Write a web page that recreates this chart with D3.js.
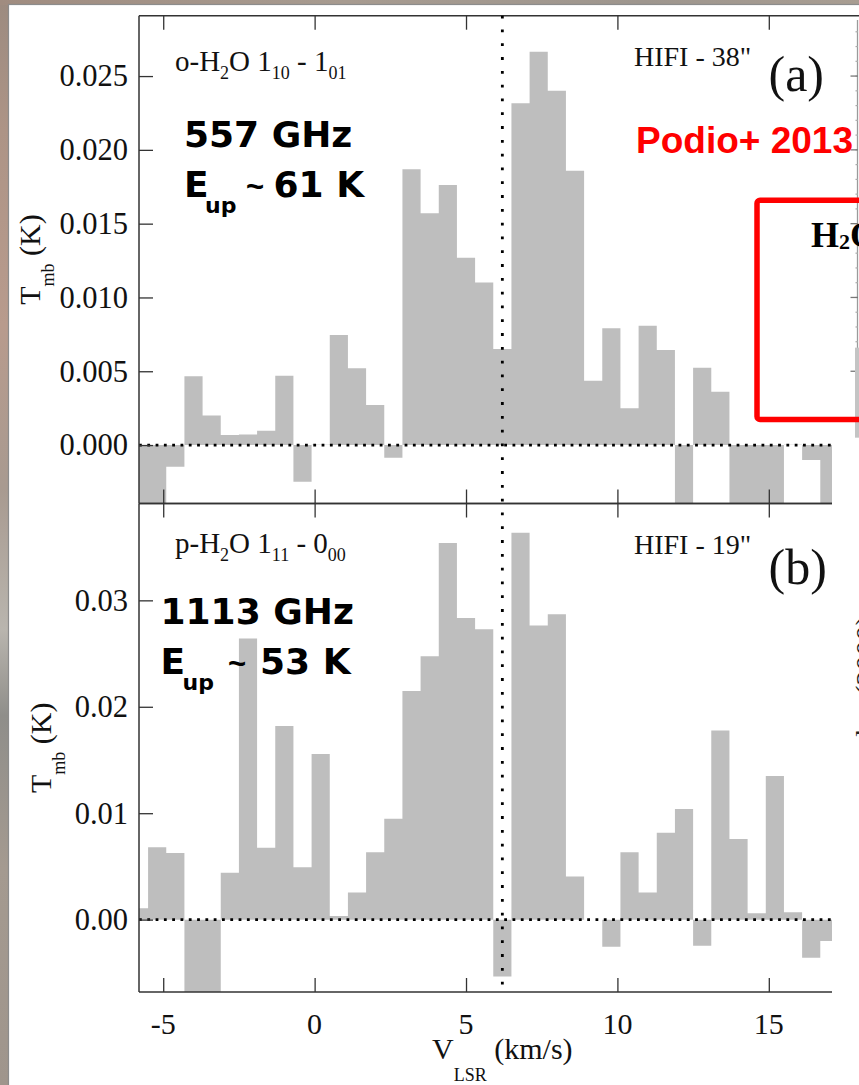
<!DOCTYPE html>
<html>
<head>
<meta charset="utf-8">
<script src="https://cdn.jsdelivr.net/npm/d3@7/dist/d3.min.js"></script>
<style>
  html, body { margin: 0; padding: 0; overflow: hidden; background: #fff; }
  svg { display: block; }
</style>
</head>
<body>
<svg id="chart" width="859" height="1085"></svg>
<script>
// ---- HIFI water spectra (channel centres in km/s, main-beam temperature in K) ----
const velocity = [-5.8, -5.2, -4.6, -4.0, -3.4, -2.8, -2.2, -1.6, -1.0, -0.4,
                   0.2,  0.8,  1.4,  2.0,  2.6,  3.2,  3.8,  4.4,  5.0,  5.6,
                   6.2,  6.8,  7.4,  8.0,  8.6,  9.2,  9.8, 10.4, 11.0, 11.6,
                  12.2, 12.8, 13.4, 14.0, 14.6, 15.2, 15.8, 16.4, 17.0];

// o-H2O 1_10 - 1_01 (557 GHz), HIFI 38" beam
const tmb557 = [-0.0045, -0.0045, -0.00147, 0.00467, 0.00200, 0.00068, 0.00072, 0.00097, 0.00470, -0.00249,
                 0.00002, 0.00745, 0.00520, 0.00271, -0.00086, 0.01868, 0.01570, 0.01762, 0.01269, 0.01102,
                 0.00650, 0.02315, 0.02665, 0.02400, 0.01858, 0.00436, 0.00791, 0.00249, 0.00808, 0.00644,
                -0.0045, 0.00524, 0.00361, -0.0045, -0.0045, -0.0045, 0.00002, -0.00102, -0.0045];

// p-H2O 1_11 - 0_00 (1113 GHz), HIFI 19" beam
const tmb1113 = [0.00106, 0.00680, 0.00627, -0.0075, -0.0075, 0.00440, 0.02641, 0.00676, 0.01820, 0.00493,
                 0.01556, 0.00035, 0.00254, 0.00634, 0.00947, 0.02148, 0.02475, 0.03539, 0.02835, 0.02729,
                -0.00535, 0.03634, 0.02764, 0.02870, 0.00405, 0.00000, -0.00254, 0.00634, 0.00254, 0.00817,
                 0.01039, -0.00246, 0.01778, 0.00757, 0.00060, 0.01349, 0.00070, -0.00359, -0.00201];

const channelWidth = 0.6;     // km/s
const vSystemic = 6.2;        // km/s

const xTickValues = [-5, 0, 5, 10, 15];
const xTickLabels = ["-5", "0", "5", "10", "15"];
const yTicks557 = [0.000, 0.005, 0.010, 0.015, 0.020, 0.025];
const yLabels557 = ["0.000", "0.005", "0.010", "0.015", "0.020", "0.025"];
const yTicks1113 = [0.00, 0.01, 0.02, 0.03];
const yLabels1113 = ["0.00", "0.01", "0.02", "0.03"];

// ---- layout ----
const svg = d3.select("#chart");
const W = 859, H = 1085;
const serif = "'Liberation Serif', 'Times New Roman', Times, serif";
const boldSans = "'DejaVu Sans', Verdana, sans-serif";
const arial = "'Liberation Sans', Arial, Helvetica, sans-serif";
const axisColor = "#333";
const barColor = "#bebebe";

// slide backdrop (photo strip at the left / top edge)
const defs = svg.append("defs");
const gv = defs.append("linearGradient").attr("id", "photoV")
  .attr("x1", 0).attr("y1", 0).attr("x2", 0).attr("y2", 1);
[["0", "#9c8b80"], ["0.12", "#ad9486"], ["0.3", "#b89b8d"], ["0.45", "#a89a90"],
 ["0.58", "#b9b5ae"], ["0.66", "#8f8e8a"], ["0.8", "#a49a90"], ["1", "#9f958c"]]
  .forEach(([o, c]) => gv.append("stop").attr("offset", o).attr("stop-color", c));
const gh = defs.append("linearGradient").attr("id", "photoH")
  .attr("x1", 0).attr("y1", 0).attr("x2", 1).attr("y2", 0);
[["0", "#a08c80"], ["0.4", "#a79b90"], ["0.75", "#9e968e"], ["1", "#a89d92"]]
  .forEach(([o, c]) => gh.append("stop").attr("offset", o).attr("stop-color", c));

svg.append("rect").attr("x", 0).attr("y", 0).attr("width", 9).attr("height", H).attr("fill", "url(#photoV)");
svg.append("rect").attr("x", 0).attr("y", 0).attr("width", W).attr("height", 5).attr("fill", "url(#photoH)");
svg.append("rect").attr("x", 8.5).attr("y", 4.5).attr("width", W).attr("height", H)
  .attr("fill", "#fff").attr("stroke", "#8c8c8c").attr("stroke-width", 1.2);

// ---- scales ----
const plotLeft = 139, plotRight = 865.7;
const x = d3.scaleLinear().domain([-5.8, 18.2]).range([plotLeft, plotRight]);

const panels = [
  { id: "p557", values: tmb557, top: 15.7, bottom: 503.5, domain: [-0.00396, 0.02909],
    ticks: yTicks557, labels: yLabels557 },
  { id: "p1113", values: tmb1113, top: 503.5, bottom: 992, domain: [-0.0068, 0.0391],
    ticks: yTicks1113, labels: yLabels1113 }
];
panels.forEach(p => {
  p.y = d3.scaleLinear().domain(p.domain).range([p.bottom, p.top]);
});

const minorX = d3.range(-5, 19, 1).filter(v => v % 5 !== 0);

panels.forEach(p => {
  const g = svg.append("g");
  const clipId = "clip-" + p.id;
  defs.append("clipPath").attr("id", clipId).append("rect")
    .attr("x", plotLeft).attr("y", p.top).attr("width", plotRight - plotLeft).attr("height", p.bottom - p.top);

  // stepped histogram
  const pts = [];
  velocity.forEach((v, i) => {
    pts.push({ v: v - channelWidth / 2, t: p.values[i] });
    pts.push({ v: v + channelWidth / 2, t: p.values[i] });
  });
  const area = d3.area().x(d => x(d.v)).y0(p.y(0)).y1(d => p.y(d.t));
  g.append("path").datum(pts).attr("d", area).attr("fill", barColor)
    .attr("clip-path", `url(#${clipId})`);

  // zero baseline (dotted)
  g.append("line").attr("x1", plotLeft).attr("x2", plotRight)
    .attr("y1", p.y(0)).attr("y2", p.y(0))
    .attr("stroke", "#000").attr("stroke-width", 2.8).attr("stroke-dasharray", "2.8 5.5");

  // left axis: major + minor ticks pointing inward
  const minorY = d3.range(Math.ceil(p.domain[0] * 1000), Math.floor(p.domain[1] * 1000) + 1)
    .map(k => k / 1000);
  const gl = g.append("g").attr("transform", `translate(${plotLeft},0)`);
  gl.call(d3.axisLeft(p.y).tickValues(minorY).tickSize(-7).tickFormat(""));
  gl.call(d3.axisLeft(p.y).tickValues(p.ticks).tickSize(-14).tickFormat(""));
  gl.selectAll(".domain").remove();

  // top and bottom edges
  [[d3.axisTop, p.top], [d3.axisBottom, p.bottom]].forEach(([ax, yy]) => {
    const ga = g.append("g").attr("transform", `translate(0,${yy})`);
    ga.call(ax(x).tickValues(minorX).tickSize(-7).tickFormat(""));
    ga.call(ax(x).tickValues(xTickValues).tickSize(-14).tickFormat(""));
    ga.selectAll(".domain").remove();
  });
  g.selectAll(".tick line").attr("stroke", axisColor).attr("stroke-width", 1.3);

  g.append("line").attr("x1", plotLeft).attr("x2", plotLeft).attr("y1", p.top).attr("y2", p.bottom)
    .attr("stroke", axisColor).attr("stroke-width", 1.5);
  g.append("line").attr("x1", plotLeft).attr("x2", plotRight).attr("y1", p.top).attr("y2", p.top)
    .attr("stroke", axisColor).attr("stroke-width", 1.5);
  g.append("line").attr("x1", plotLeft).attr("x2", plotRight).attr("y1", p.bottom).attr("y2", p.bottom)
    .attr("stroke", axisColor).attr("stroke-width", 1.5);

  // y tick labels
  g.selectAll("text.ylab").data(p.ticks).enter().append("text")
    .attr("class", "ylab")
    .attr("x", plotLeft - 11).attr("y", d => p.y(d)).attr("dy", "0.34em")
    .attr("text-anchor", "end").attr("font-family", serif).attr("font-size", 30.5)
    .attr("fill", "#111")
    .text((d, i) => p.labels[i]);
});

// systemic velocity (dotted, through both panels)
svg.append("line").attr("x1", x(vSystemic)).attr("x2", x(vSystemic))
  .attr("y1", panels[0].top).attr("y2", panels[1].bottom)
  .attr("stroke", "#000").attr("stroke-width", 2.8).attr("stroke-dasharray", "2.8 11");

// x tick labels
svg.selectAll("text.xlab").data(xTickValues).enter().append("text")
  .attr("class", "xlab")
  .attr("x", d => x(d)).attr("y", 1034)
  .attr("text-anchor", "middle").attr("font-family", serif).attr("font-size", 30)
  .attr("fill", "#111")
  .text((d, i) => xTickLabels[i]);

// axis titles
const xt = svg.append("text").attr("x", (plotLeft + plotRight) / 2).attr("y", 1059)
  .attr("text-anchor", "middle").attr("font-family", serif).attr("font-size", 30).attr("fill", "#111");
xt.append("tspan").text("V");
xt.append("tspan").attr("font-size", 18).attr("dy", 22).text("LSR");
xt.append("tspan").attr("dy", -22).text(" (km/s)");

[[40, panels[0]], [51, panels[1]]].forEach(([bx, p]) => {
  const t = svg.append("text")
    .attr("transform", `translate(${bx},${(p.top + p.bottom) / 2}) rotate(-90)`)
    .attr("text-anchor", "middle").attr("font-family", serif).attr("font-size", 30).attr("fill", "#111");
  t.append("tspan").text("T");
  t.append("tspan").attr("font-size", 18).attr("dy", 13.5).text("mb");
  t.append("tspan").attr("dy", -13.5).text(" (K)");
});

// transition labels
function transition(xx, yy, parts) {
  const t = svg.append("text").attr("x", xx).attr("y", yy)
    .attr("font-family", serif).attr("font-size", 29).attr("fill", "#111");
  let low = false;
  parts.forEach(([s, sub]) => {
    const sp = t.append("tspan").text(s);
    if (sub && !low) { sp.attr("font-size", 18).attr("dy", 8); low = true; }
    else if (sub) { sp.attr("font-size", 18); }
    else if (low) { sp.attr("dy", -8); low = false; }
  });
}
transition(175, 71, [["o-H", 0], ["2", 1], ["O 1", 0], ["10", 1], [" - 1", 0], ["01", 1]]);
transition(175, 553, [["p-H", 0], ["2", 1], ["O 1", 0], ["11", 1], [" - 0", 0], ["00", 1]]);

// beam and panel tags
[["HIFI - 38\"", 65.7, "(a)", 90.5], ["HIFI - 19\"", 554.4, "(b)", 584]].forEach(([beam, by, tag, ty]) => {
  svg.append("text").attr("x", 634).attr("y", by).attr("font-family", serif)
    .attr("font-size", 28).attr("fill", "#111").text(beam);
  svg.append("text").attr("x", 768.5).attr("y", ty).attr("font-family", serif)
    .attr("font-size", 50).attr("fill", "#111").text(tag);
});

// frequency / upper-level energy annotations
function lineInfo(xs, y0, freq, eup) {
  svg.append("text").attr("x", xs[0]).attr("y", y0).attr("font-family", boldSans)
    .attr("font-weight", "bold").attr("font-size", 36).attr("fill", "#000").text(freq);
  const t = svg.append("text").attr("x", xs[0]).attr("y", y0 + 50).attr("font-family", boldSans)
    .attr("font-weight", "bold").attr("font-size", 36).attr("fill", "#000");
  t.append("tspan").attr("x", xs[0]).text("E");
  t.append("tspan").attr("x", xs[1]).attr("dy", 16).attr("font-size", 22).text("up");
  t.append("tspan").attr("x", xs[2]).attr("dy", -16).attr("font-family", arial)
    .attr("font-size", 31).text("~");
  t.append("tspan").attr("x", xs[3]).text(eup);
}
lineInfo([184, 205, 246, 273.5], 146.7, "557 GHz", "61 K");
lineInfo([160.5, 182.5, 228, 260], 623.7, "1113 GHz", "53 K");

// ---- neighbouring map figure, overlapping the right edge ----
svg.append("rect").attr("x", 832).attr("y", 18).attr("width", 40).attr("height", H).attr("fill", "#fff");
const yMap = panels[0].y;
svg.append("line").attr("x1", 857.5).attr("x2", 857.5).attr("y1", 20).attr("y2", 437)
  .attr("stroke", "#9a9a9a").attr("stroke-width", 1.3);
const mapMinor = d3.range(4, 29).map(k => k / 1000);
svg.selectAll("line.mapminor").data(mapMinor).enter().append("line")
  .attr("x1", 855.5).attr("x2", 858).attr("y1", d => yMap(d)).attr("y2", d => yMap(d))
  .attr("stroke", "#aaa").attr("stroke-width", 1.2);
svg.selectAll("line.mapmajor").data(yTicks557.slice(1)).enter().append("line")
  .attr("x1", 850.5).attr("x2", 858).attr("y1", d => yMap(d)).attr("y2", d => yMap(d))
  .attr("stroke", "#777").attr("stroke-width", 1.3);
svg.append("rect").attr("x", 855).attr("y", yMap(0.0066)).attr("width", 5)
  .attr("height", yMap(0.0005) - yMap(0.0066)).attr("fill", "#c4c4c4");
svg.append("text").attr("transform", "translate(876,680) rotate(-90)")
  .attr("text-anchor", "middle").attr("font-family", serif).attr("font-size", 30)
  .attr("fill", "#222").text("dec (2000)");

// citation and highlight box
svg.append("text").attr("x", 636).attr("y", 153.3)
  .attr("font-family", arial)
  .attr("font-weight", "bold").attr("font-size", 37).attr("fill", "#ff0000").text("Podio+ 2013");
svg.append("rect").attr("x", 757).attr("y", 200.3).attr("width", 200).attr("height", 219.2)
  .attr("rx", 3).attr("fill", "none").attr("stroke", "#ff0000").attr("stroke-width", 5.5);
const h2o = svg.append("text").attr("x", 811).attr("y", 246.7)
  .attr("font-family", serif).attr("font-weight", "bold").attr("font-size", 36).attr("fill", "#000");
h2o.append("tspan").text("H");
h2o.append("tspan").attr("font-size", 22).attr("dy", 2).text("2");
h2o.append("tspan").attr("dy", -2).text("O");
</script>
</body>
</html>
